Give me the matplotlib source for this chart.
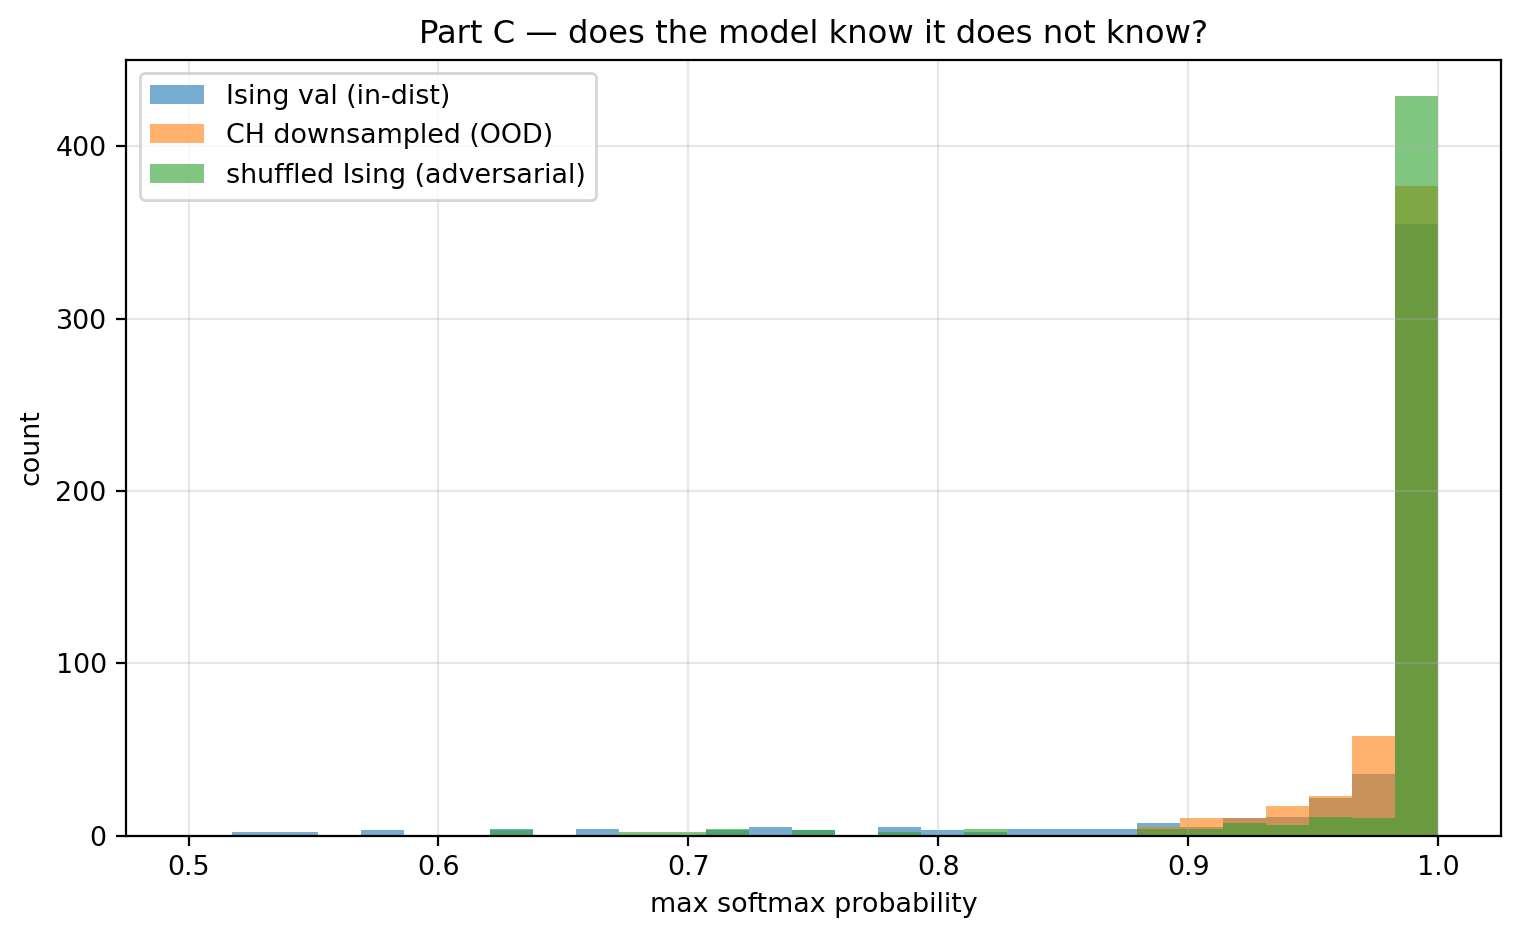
import numpy as np
import matplotlib
matplotlib.use("Agg")
import matplotlib.pyplot as plt

plt.rcParams["font.size"] = 9.7

# histogram bins: 29 bins between 0.5 and 1.0
bin_edges = np.linspace(0.5, 1.0, 30)

# counts per bin (index 0..28)
ising_val = [0, 2, 2, 0, 3, 0, 0, 4, 0, 4, 0, 0, 3, 5, 3, 0, 5, 3, 2, 4,
             4, 4, 7, 5, 10, 11, 22, 36, 355]
ch_ood = [0, 0, 0, 0, 0, 0, 0, 0, 0, 0, 0, 0, 0, 0, 0, 0, 0, 0, 0, 0,
          0, 0, 5, 10, 10, 17, 23, 58, 377]
shuffled = [0, 0, 0, 0, 0, 0, 0, 3, 0, 0, 2, 2, 4, 0, 3, 0, 2, 0, 4, 0,
            0, 0, 4, 4, 7, 6, 11, 10, 429]

labels = ["Ising val (in-dist)", "CH downsampled (OOD)", "shuffled Ising (adversarial)"]

centers = 0.5 * (bin_edges[:-1] + bin_edges[1:])

fig = plt.figure(figsize=(1519 / 200, 939 / 200), dpi=200)
ax = fig.add_axes([0.0830, 0.1102, 0.9049, 0.8264])

for counts, lab in zip([ising_val, ch_ood, shuffled], labels):
    ax.hist(centers, bins=bin_edges, weights=counts, alpha=0.6, label=lab)

ax.set_xlabel("max softmax probability")
ax.set_ylabel("count")
ax.set_title("Part C — does the model know it does not know?")
ax.legend(loc="upper left")
ax.grid(alpha=0.3)

fig.savefig("out.png", dpi=200)
